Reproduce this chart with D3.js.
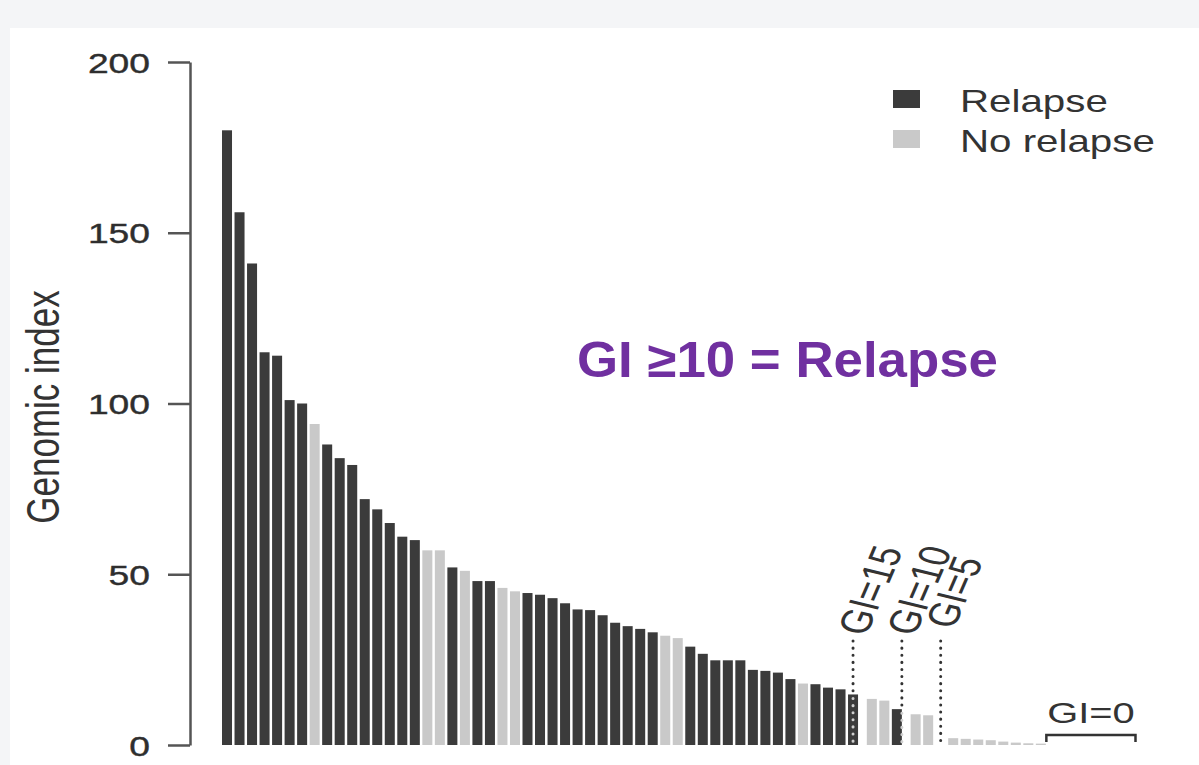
<!DOCTYPE html>
<html>
<head>
<meta charset="utf-8">
<script src="https://cdn.jsdelivr.net/npm/d3@7"></script>
<style>
  body { margin: 0; background: #f4f5f7; }
  svg { display: block; }
  text { font-family: "Liberation Sans", Arial, sans-serif; }
</style>
</head>
<body>
<div id="chart"></div>
<script>
// genomic index per patient, sorted high to low
const values = [
    180, 156, 141, 115, 114, 101, 100, 94, 88, 84, 82, 72, 69, 65, 61, 60,
    57, 57, 52, 51, 48, 48, 46, 45, 44.5, 44, 43, 41.5, 39.7, 39.5, 38, 35.8,
    34.8, 34, 33, 32, 31.3, 28.8, 26.7, 24.8, 24.8, 24.8, 22, 21.7, 21.2, 19.3,
    18, 17.8, 16.8, 16.3, 14.8, 13.5, 13, 10.5, 9, 8.7,
    2, 1.8, 1.6, 1.4, 1.0, 0.7, 0.5, 0.4,
    0, 0, 0, 0, 0, 0, 0
];
// R = relapse, N = no relapse
const groups = [
    "R", "R", "R", "R", "R", "R", "R", "N", "R", "R", "R", "R", "R", "R", "R", "R",
    "N", "N", "R", "N", "R", "R", "N", "N", "R", "R", "R", "R", "R", "R", "R", "R",
    "R", "R", "R", "N", "N", "R", "R", "R", "R", "R", "R", "R", "R", "R",
    "N", "R", "R", "R", "R", "N", "N", "R", "N", "N",
    "N", "N", "N", "N", "N", "N", "N", "N",
    "N", "N", "N", "N", "N", "N", "N"
];
const yTicks = [0, 50, 100, 150, 200];
const legendLabels = ["Relapse", "No relapse"];
// extra space (in bar slots) left after a bar, where the cut-off lines sit
const gapAfter = { 50: 0.5, 53: 0.5, 55: 1.0 };
// cut-offs: label, bar it refers to, offset of the line inside that bar's slot
const cutoffs = [
    { label: "GI=15", bar: 50, offset: 0.5, inBar: true },
    { label: "GI=10", bar: 53, offset: 0.9, inBar: true },
    { label: "GI=5", bar: 55, offset: 1.5, inBar: false }
];
const zeroStart = 64; // first bar with GI = 0

const width = 1199;
const height = 765;
const stretch = 1.33; // original figure was widened, text too

const dark = "#3b3b3b";
const light = "#c9c9c9";

const svg = d3.select("#chart")
    .append("svg")
    .attr("width", width)
    .attr("height", height);

svg.append("rect")
    .attr("x", 10).attr("y", 28)
    .attr("width", width - 10).attr("height", height - 28)
    .attr("fill", "#ffffff");

// slot position of each bar, counting the gaps
const slots = [];
let s = 0;
values.forEach((v, i) => {
    slots.push(s);
    s += 1 + (gapAfter[i] || 0);
});
const totalSlots = s;

const x = d3.scaleLinear()
    .domain([0, totalSlots])
    .range([222, 1136]);
const barW = (x(1) - x(0)) * 0.8;

const y = d3.scaleLinear()
    .domain([0, 200])
    .range([745, 62]);

// y axis
const yAxis = svg.append("g")
    .attr("transform", "translate(190,0)")
    .call(d3.axisLeft(y).tickValues(yTicks).tickSize(22).tickSizeOuter(0));

yAxis.select(".domain").attr("stroke", "#555").attr("stroke-width", 2.5);
yAxis.selectAll(".tick line").attr("stroke", "#555").attr("stroke-width", 2.5);
yAxis.selectAll(".tick text")
    .attr("x", -40 / stretch)
    .attr("dy", "0.36em")
    .attr("transform", `scale(${stretch},1)`)
    .attr("fill", "#2e2e2e")
    .attr("stroke", "#2e2e2e")
    .attr("stroke-width", 0.4)
    .style("font-size", "28px");

svg.append("text")
    .attr("transform", `translate(59,407) scale(${stretch},1) rotate(-90)`)
    .attr("text-anchor", "middle")
    .attr("fill", "#333")
    .style("font-size", "35px")
    .text("Genomic index");

// bars
svg.selectAll("rect.bar")
    .data(values)
    .enter()
    .append("rect")
    .attr("class", "bar")
    .attr("x", (d, i) => x(slots[i]))
    .attr("width", barW)
    .attr("y", d => y(d))
    .attr("height", d => y(0) - y(d))
    .attr("fill", (d, i) => groups[i] === "R" ? dark : light);

// dotted cut-off lines with rotated labels
cutoffs.forEach(c => {
    const cx = x(slots[c.bar] + c.offset) - (x(1) - x(0) - barW) / 2;
    const barTop = c.inBar ? y(values[c.bar]) : y(0);

    svg.append("line")
        .attr("x1", cx).attr("x2", cx)
        .attr("y1", 641).attr("y2", barTop)
        .attr("stroke", "#333")
        .attr("stroke-width", 3)
        .attr("stroke-linecap", "round")
        .attr("stroke-dasharray", "0.1,7");

    if (c.inBar) {
        svg.append("line")
            .attr("x1", cx).attr("x2", cx)
            .attr("y1", barTop + 4).attr("y2", y(0))
            .attr("stroke", "#cfcfcf")
            .attr("stroke-width", 3)
            .attr("stroke-linecap", "round")
            .attr("stroke-dasharray", "0.1,7");
    }

    svg.append("text")
        .attr("transform", `translate(${cx + 13},${c.label === "GI=5" ? 630 : 637}) scale(${stretch},1) rotate(-72)`)
        .attr("fill", "#333")
        .style("font-size", "33px")
        .text(c.label);
});

// GI = 0 bracket
const bx0 = x(slots[zeroStart]) - 2;
const bx1 = x(slots[values.length - 1]) + barW + 2;
svg.append("path")
    .attr("d", `M${bx0},742 V735 H${bx1} V742`)
    .attr("fill", "none")
    .attr("stroke", "#333")
    .attr("stroke-width", 2.5);

svg.append("text")
    .attr("transform", `translate(${(bx0 + bx1) / 2},723) scale(${stretch},1)`)
    .attr("text-anchor", "middle")
    .attr("fill", "#333")
    .style("font-size", "30px")
    .text("GI=0");

// legend
const legend = svg.append("g").attr("transform", "translate(893,90)");
legendLabels.forEach((lab, i) => {
    legend.append("rect")
        .attr("x", 0).attr("y", i * 40)
        .attr("width", 27).attr("height", 18)
        .attr("fill", i === 0 ? dark : light);
    legend.append("text")
        .attr("transform", `translate(67,${i * 40 + 22}) scale(${stretch - 0.03},1)`)
        .attr("fill", "#333")
        .style("font-size", "31px")
        .text(lab);
});

// headline annotation
svg.append("text")
    .attr("x", 577)
    .attr("y", 377)
    .attr("fill", "#7030a0")
    .attr("textLength", 421)
    .attr("lengthAdjust", "spacingAndGlyphs")
    .style("font-size", "50px")
    .style("font-weight", "bold")
    .text("GI \u226510 = Relapse");
</script>
</body>
</html>
